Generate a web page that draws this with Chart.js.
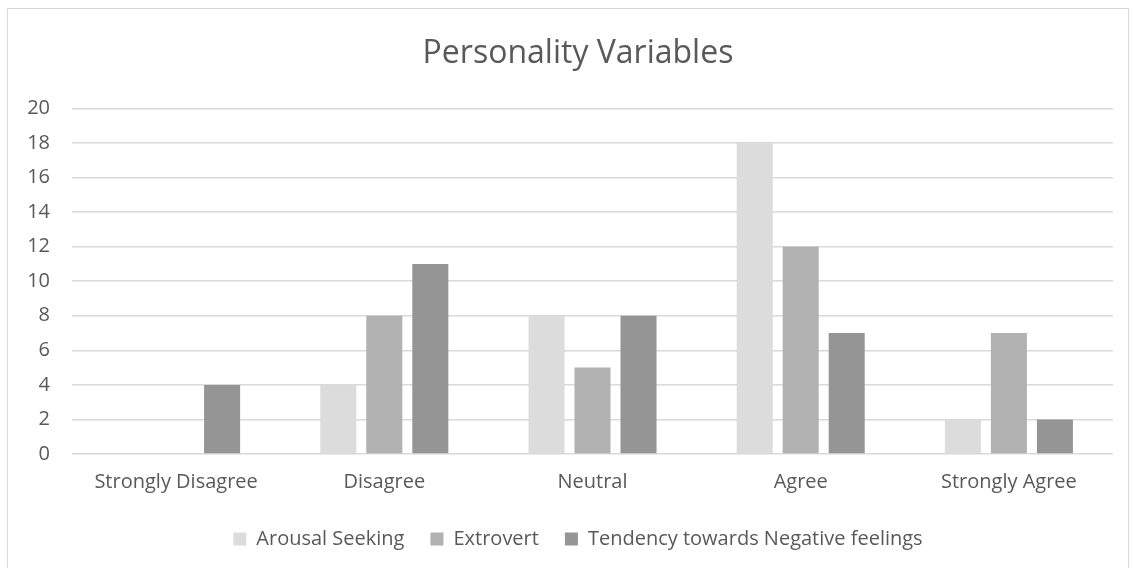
<!DOCTYPE html>
<html lang="en">

<head>
    <meta charset="UTF-8">
    <title>Personality Variables</title>
    <script src="https://cdn.jsdelivr.net/npm/chart.js@4.4.0/dist/chart.umd.min.js"></script>
    <style>
        * {
            margin: 0;
            padding: 0;
        }

        body {
            background: #fff;
        }

        #box {
            position: absolute;
            left: 7px;
            top: 8px;
            width: 1120px;
            height: 560px;
            border: 1px solid #d9d9d9;
        }
    </style>
</head>

<body>
    <div id="box"><canvas id="myChart" width="1120" height="552"></canvas></div>

    <script>
        var categories = ['Strongly Disagree', 'Disagree', 'Neutral', 'Agree', 'Strongly Agree'];
        var arousalSeeking = [0, 4, 8, 18, 2];
        var extrovert = [0, 8, 5, 12, 7];
        var negativeFeelings = [4, 11, 8, 7, 2];

        var font = "'Open Sans', 'Noto Sans', sans-serif";
        var textColor = '#595959';

        function bar(label, data, color) {
            return {
                label: label,
                data: data,
                backgroundColor: color,
                borderWidth: 0,
                categoryPercentage: 0.663,
                barPercentage: 0.783
            };
        }

        var ctx = document.getElementById('myChart').getContext('2d');
        new Chart(ctx, {
            type: 'bar',
            data: {
                labels: categories,
                datasets: [
                    bar('Arousal Seeking', arousalSeeking, '#dcdcdc'),
                    bar('Extrovert', extrovert, '#b1b1b1'),
                    bar('Tendency towards Negative feelings', negativeFeelings, '#959595')
                ]
            },
            options: {
                responsive: false,
                animation: false,
                layout: {
                    padding: { left: 20, right: 0, top: 10, bottom: 2 }
                },
                plugins: {
                    title: {
                        display: true,
                        text: 'Personality Variables',
                        color: textColor,
                        font: { family: font, size: 32, weight: 'normal' },
                        padding: { top: 16, bottom: 35 }
                    },
                    legend: {
                        position: 'bottom',
                        labels: {
                            color: textColor,
                            font: { family: font, size: 20 },
                            boxWidth: 13,
                            boxHeight: 13,
                            padding: 26
                        }
                    },
                    tooltip: { enabled: false }
                },
                scales: {
                    x: {
                        afterFit: function (scale) { scale.height = 49; },
                        grid: { display: false },
                        border: { display: false },
                        ticks: {
                            color: textColor,
                            font: { family: font, size: 20 },
                            padding: 8
                        }
                    },
                    y: {
                        min: 0,
                        max: 20,
                        afterFit: function (scale) { scale.width = 44; },
                        grid: { color: '#d9d9d9', lineWidth: 1.5, drawTicks: false },
                        border: { display: false },
                        ticks: {
                            stepSize: 2,
                            color: textColor,
                            font: { family: font, size: 20 },
                            padding: 22
                        }
                    },
                    // empty right-hand axis, only to leave a margin
                    yRight: {
                        position: 'right',
                        afterFit: function (scale) { scale.width = 15; },
                        grid: { display: false },
                        border: { display: false },
                        ticks: { display: false }
                    }
                }
            }
        });
    </script>

</body>

</html>
